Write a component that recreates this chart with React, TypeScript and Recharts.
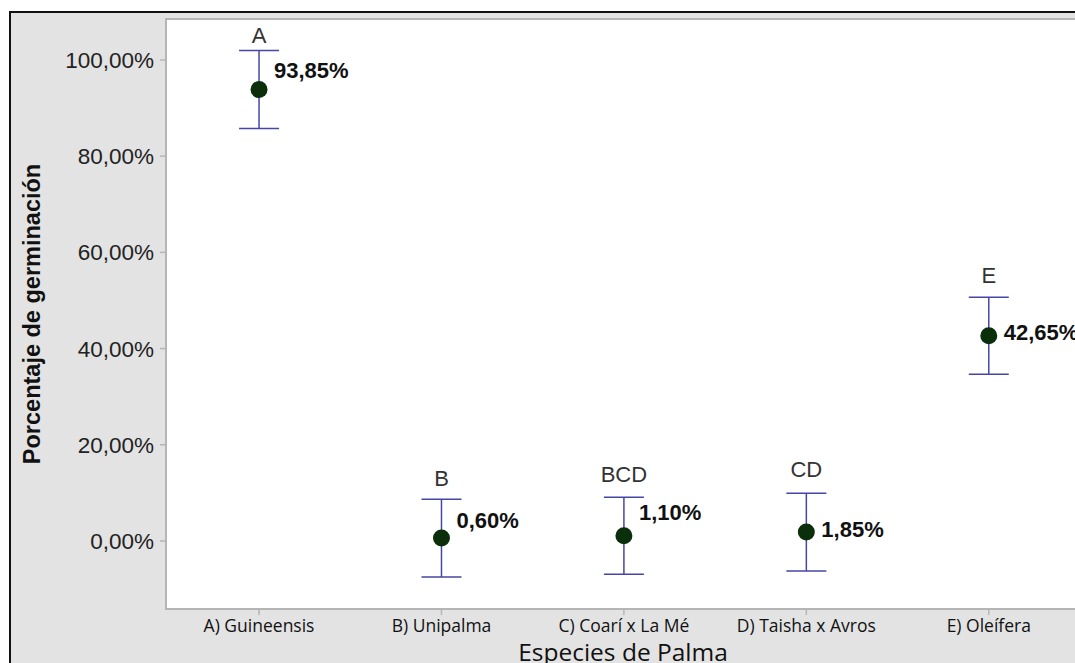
import React from 'react';
import {
  ComposedChart,
  Scatter,
  ErrorBar,
  XAxis,
  YAxis,
  ReferenceArea,
  LabelList,
  Label,
} from 'recharts';

// ---- data ----
const categories = ['A) Guineensis', 'B) Unipalma', 'C) Coarí x La Mé', 'D) Taisha x Avros', 'E) Oleífera'];
const means = [93.85, 0.6, 1.1, 1.85, 42.65];
const errors = [8.1, 8.1, 8.0, 8.1, 8.0];
const letters = ['A', 'B', 'BCD', 'CD', 'E'];
const valueLabels = ['93,85%', '0,60%', '1,10%', '1,85%', '42,65%'];
const yTicks = [0, 20, 40, 60, 80, 100];

// ---- layout (label nudges, not data) ----
const valueLabelDy = [-19, -18, -23, -3, -3];
const letterGap = [8, 13, 15, 16, 14];

const rows = categories.map((c, i) => ({
  x: i + 1,
  name: c,
  mean: means[i],
  err: errors[i],
  top: means[i] + errors[i],
  letter: letters[i],
  vlabel: valueLabels[i],
  idx: i,
}));

const fmtPct = (v: number) => `${v.toFixed(2).replace('.', ',')}%`;

const Dot = (props: any) => {
  const { cx, cy } = props;
  if (cx == null || cy == null) return null;
  return <circle cx={cx} cy={cy} r={8.5} fill="#0b2f0b" />;
};

const Nothing = () => null;

const ValueLabel = (props: any) => {
  const { x, y, width, height, index } = props;
  const cx = x + (width || 0) / 2;
  const cy = y + (height || 0) / 2;
  return (
    <text
      x={cx + 15}
      y={cy + valueLabelDy[index]}
      dominantBaseline="central"
      fontFamily="'Liberation Sans', Arial, sans-serif"
      fontWeight="bold"
      fontSize={22}
      fill="#111"
    >
      {valueLabels[index]}
    </text>
  );
};

const LetterLabel = (props: any) => {
  const { x, y, width, height, index } = props;
  const cx = x + (width || 0) / 2;
  const cy = y + (height || 0) / 2;
  return (
    <text
      x={cx}
      y={cy - letterGap[index]}
      textAnchor="middle"
      fontFamily="'Liberation Sans', Arial, sans-serif"
      fontSize={22}
      fill="#333"
    >
      {letters[index]}
    </text>
  );
};

const XTick = (props: any) => {
  const { x, y, payload } = props;
  const i = Math.round(payload.value) - 1;
  return (
    <text
      x={x}
      y={y + 15}
      textAnchor="middle"
      fontFamily="'Open Sans', 'Noto Sans', sans-serif"
      fontSize={17.5}
      fontWeight={500}
      fill="#111"
    >
      {categories[i]}
    </text>
  );
};

const YTitle = (props: any) => {
  const vb = props.viewBox || {};
  const cy = vb.y + vb.height / 2;
  const cx = 32;
  return (
    <text
      x={cx}
      y={cy}
      transform={`rotate(-90, ${cx}, ${cy})`}
      textAnchor="middle"
      dominantBaseline="central"
      fontFamily="'Liberation Sans', Arial, sans-serif"
      fontWeight="bold"
      fontSize={23.5}
      fill="#111"
    >
      Porcentaje de germinación
    </text>
  );
};

const XTitle = (props: any) => {
  const vb = props.viewBox || {};
  const cx = vb.x + vb.width / 2;
  return (
    <text
      x={cx}
      y={661}
      textAnchor="middle"
      fontFamily="'Open Sans', 'Noto Sans', sans-serif"
      fontSize={24.5}
      fontWeight={500}
      fill="#111"
    >
      Especies de Palma
    </text>
  );
};

export default function App() {
  return (
    <div style={{ position: 'absolute', left: 0, top: 0, width: 1075, height: 663, overflow: 'hidden' }}>
      <style>{'html,body{margin:0;padding:0;overflow:hidden;}'}</style>
      <div
        style={{
          position: 'absolute',
          left: 9,
          top: 11,
          width: 1100,
          height: 700,
          background: '#e3e3e3',
          borderLeft: '2px solid #111',
          borderTop: '2px solid #111',
        }}
      />
      <div style={{ position: 'absolute', left: 0, top: 0 }}>
        <ComposedChart
          width={1092}
          height={663}
          data={rows}
          margin={{ top: 19, right: 12, bottom: 0, left: 0 }}
        >
          <XAxis
            dataKey="x"
            type="number"
            domain={[0.49, 5.5]}
            ticks={[1, 2, 3, 4, 5]}
            allowDataOverflow
            height={54}
            axisLine={false}
            tickLine={{ stroke: '#b5b5b5', strokeWidth: 1.5 }}
            tickSize={6}
            tick={<XTick />}
            interval={0}
          >
            <Label content={<XTitle />} />
          </XAxis>
          <YAxis
            type="number"
            domain={[-14.14, 108.52]}
            ticks={yTicks}
            allowDataOverflow
            width={166}
            axisLine={false}
            tickLine={{ stroke: '#b5b5b5', strokeWidth: 1.5 }}
            tickSize={6}
            tickMargin={6}
            tickFormatter={fmtPct}
            tick={{ fontFamily: "'Liberation Sans', Arial, sans-serif", fontSize: 22.5, fill: '#222' }}
          >
            <Label content={<YTitle />} />
          </YAxis>
          <ReferenceArea
            x1={0.49}
            x2={5.5}
            y1={-14.14}
            y2={108.52}
            fill="#ffffff"
            fillOpacity={1}
            stroke="#b5b5b5"
            strokeWidth={2}
            ifOverflow="visible"
          />
          <Scatter
            data={rows}
            dataKey="top"
            shape={<Nothing />}
            isAnimationActive={false}
          >
            <LabelList dataKey="letter" content={<LetterLabel />} />
          </Scatter>
          <Scatter
            data={rows}
            dataKey="mean"
            shape={<Dot />}
            isAnimationActive={false}
          >
            <ErrorBar dataKey="err" direction="y" width={20} stroke="#4646a6" strokeWidth={1.5} />
            <LabelList dataKey="vlabel" content={<ValueLabel />} />
          </Scatter>
        </ComposedChart>
      </div>
    </div>
  );
}
